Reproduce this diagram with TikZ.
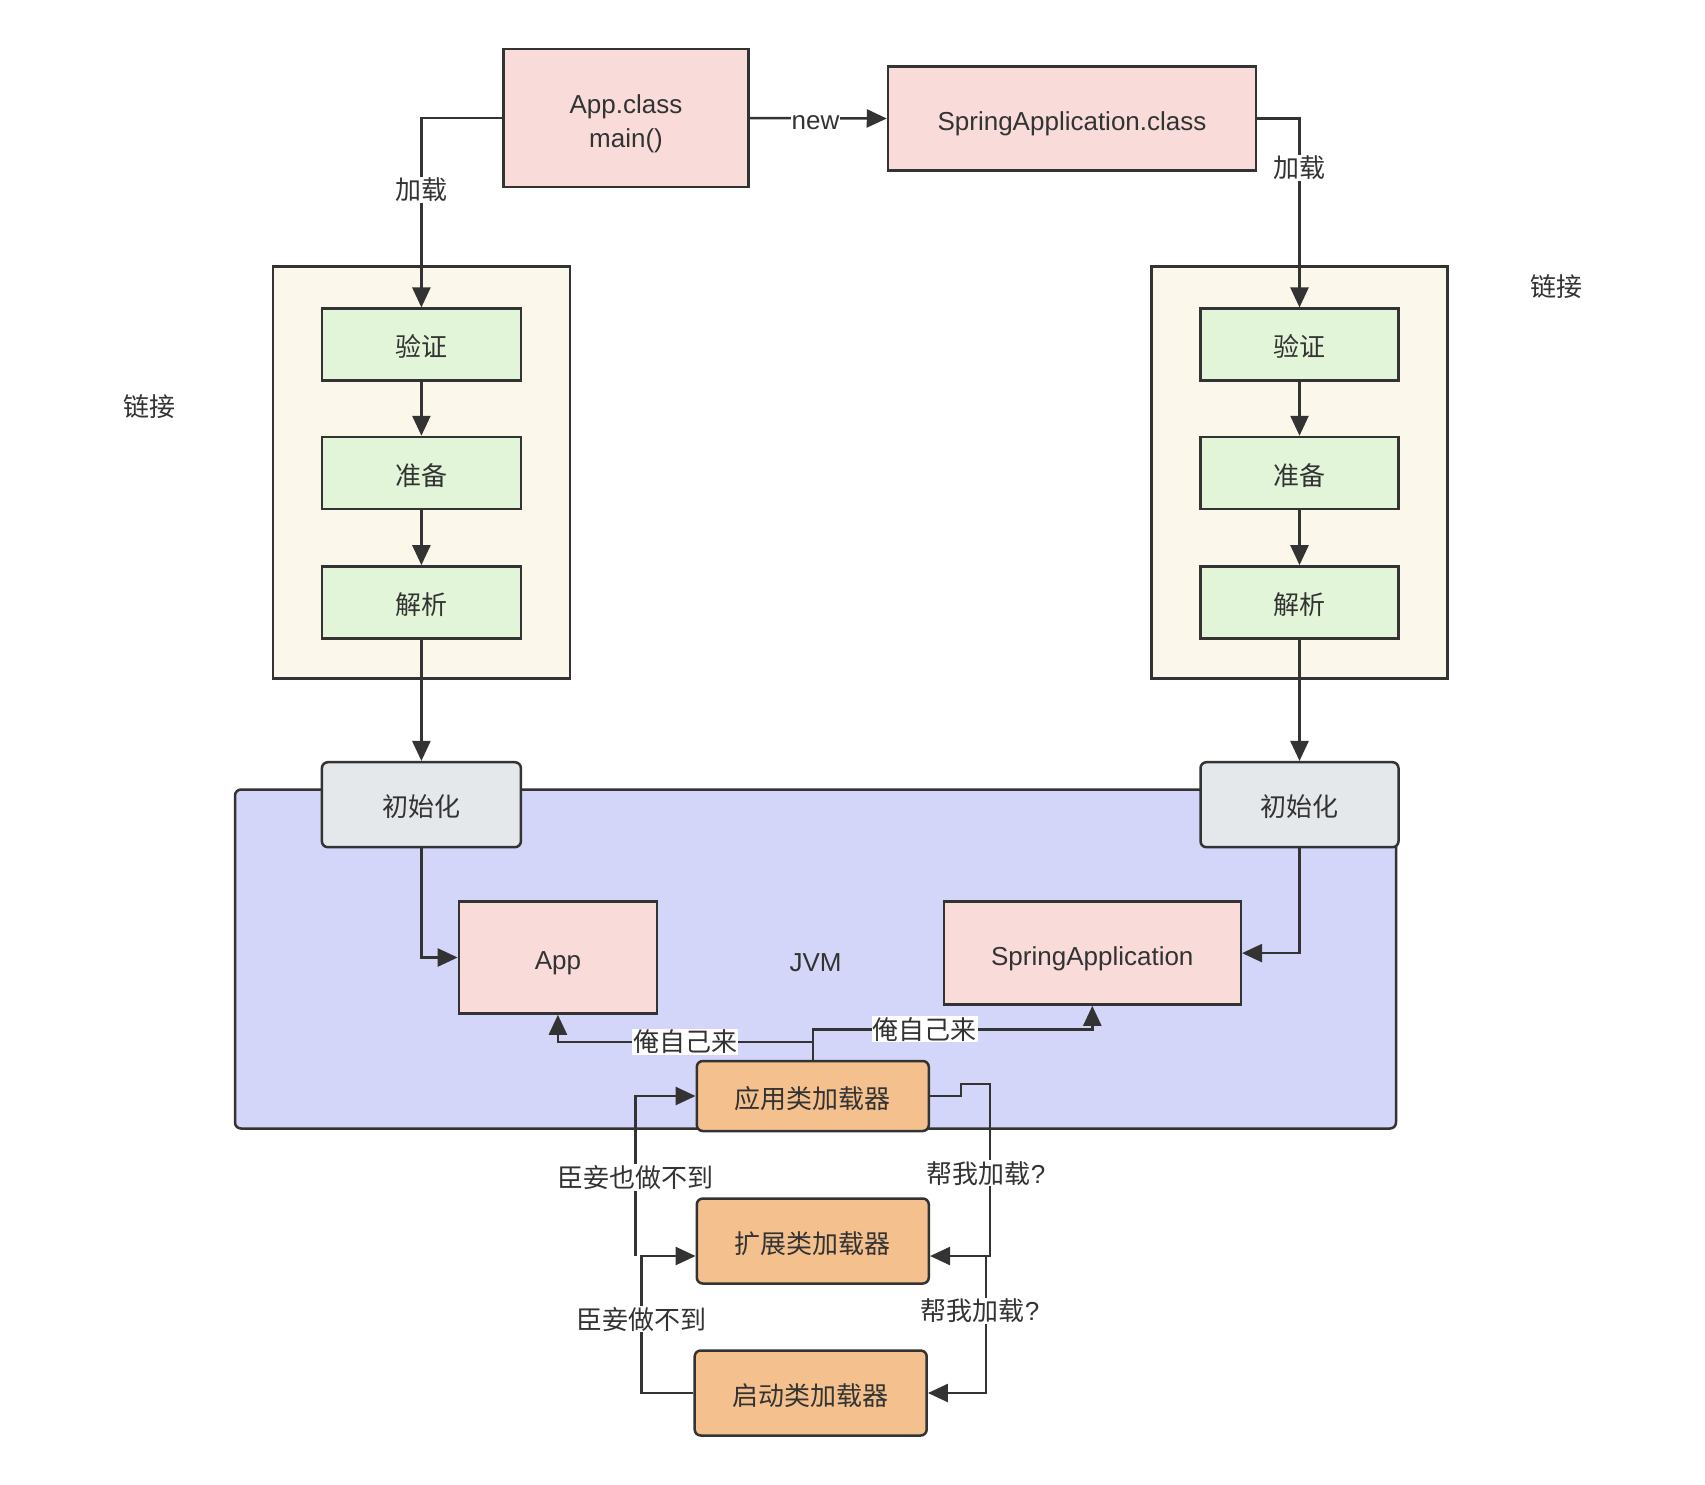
\documentclass[tikz,border=0pt]{standalone}
\usepackage{fontspec}
\setmainfont{Liberation Sans}
\newfontfamily\cjk{Noto Sans CJK SC}
\usepackage{tikz}
\usetikzlibrary{arrows.meta, calc}
\usetikzlibrary{positioning}
\definecolor{lineGray}{HTML}{333333}
\definecolor{boxPink}{HTML}{F9DCDA}
\definecolor{boxGreen}{HTML}{E3F5D9}
\definecolor{boxCream}{HTML}{FBF8EB}
\definecolor{boxGray}{HTML}{E5E8EB}
\definecolor{boxJvm}{HTML}{D3D6F8}
\definecolor{boxOrange}{HTML}{F4C18E}
\newcommand{\boxColor}{boxPink}
\newcommand{\cnFont}{\cjk\fontsize{26}{33}\selectfont}
\newcommand{\enFont}{\fontsize{26}{33}\selectfont}
\tikzset{
    box/.style = {draw=lineGray, line width=2.5pt, fill=#1, text=lineGray, inner sep=0pt,
        align=center, font=\enFont, text height=24pt, text depth=0pt},
    box/.default = \boxColor,
    boxP/.style = {box=boxPink},
    boxG/.style = {box=boxGreen, font=\cnFont, text height=24.5pt},
    boxC/.style = {box=boxCream},
    boxW/.style = {box=boxGray, rounded corners=6pt, font=\cnFont, text height=24.5pt},
    boxJ/.style = {box=boxJvm, rounded corners=6pt},
    boxO/.style = {box=boxOrange, rounded corners=6pt, font=\cnFont, text height=24.5pt},
    link/.style = {draw=lineGray, line width=2.5pt, -{Triangle[length=20pt,width=18pt]}},
    tag/.style = {fill=white, text=lineGray, inner sep=1pt, font=\cnFont}
}

\begin{document}
\begin{tikzpicture}[x=1pt, y=-1pt, font=\enFont]
                % pixel grid, y runs down; left column is App, right column is SpringApplication
                \useasboundingbox (0,0) rectangle (1705,1485);

                \node[boxC, minimum width=297, minimum height=412] (linkA) at (421.4,472.5) {};
                \node[boxC, minimum width=296, minimum height=412] (linkB) at (1299.5,472.5) {};
                \node[boxJ, minimum width=1161, minimum height=339] (jvm) at (815.5,959) {JVM};
                \node[text=lineGray, font=\cnFont] (linkTxtA) at (149,407) {链接};
                \node[text=lineGray, font=\cnFont] (linkTxtB) at (1556,287) {链接};

                \node[boxP, minimum width=245, minimum height=138, text height=58pt] (appClass) at (626,118) {App.class\\main()};
                \node[boxP, minimum width=368, minimum height=104] (springClass) at (1072,118.5) {SpringApplication.class};

                \node[boxG, minimum width=199, minimum height=72] (verifyA) at (421.4,344.7) {验证};
                \node[boxG, minimum width=199, minimum height=72] (prepareA) at (421.4,473) {准备};
                \node[boxG, minimum width=199, minimum height=72] (resolveA) at (421.4,602.4) {解析};
                \node[boxG, minimum width=198, minimum height=72] (verifyB) at (1299.5,344.7) {验证};
                \node[boxG, minimum width=198, minimum height=72] (prepareB) at (1299.5,473) {准备};
                \node[boxG, minimum width=198, minimum height=72] (resolveB) at (1299.5,602.4) {解析};

                \node[boxW, minimum width=199, minimum height=85] (initA) at (421.4,804.7) {初始化};
                \node[boxW, minimum width=198, minimum height=85] (initB) at (1299.5,804.7) {初始化};

                \node[boxP, minimum width=198, minimum height=112] (appObj) at (557.9,957.5) {App};
                \node[boxP, minimum width=297, minimum height=103] (springObj) at (1092.3,953.1) {SpringApplication};

                \node[boxO, minimum width=232, minimum height=70] (loaderApp) at (812.8,1096) {应用类加载器};
                \node[boxO, minimum width=232, minimum height=85] (loaderExt) at (812.8,1241) {扩展类加载器};
                \node[boxO, minimum width=232, minimum height=85] (loaderBoot) at (810.7,1393) {启动类加载器};

                \draw[link] (appClass.east) -- node[tag, pos=0.48, font=\enFont, text height=22pt, text depth=0pt] {new} (springClass.west);
                \draw[link] (appClass.west) -| node[tag, pos=0.69] {加载} (verifyA.north);
                \draw[link] (springClass.east) -| node[tag, pos=0.63] {加载} (verifyB.north);

                \draw[link] (verifyA) -- (prepareA);
                \draw[link] (prepareA) -- (resolveA);
                \draw[link] (resolveA) -- (initA);
                \draw[link] (verifyB) -- (prepareB);
                \draw[link] (prepareB) -- (resolveB);
                \draw[link] (resolveB) -- (initB);

                \draw[link] (initA.south) |- (appObj.west);
                \draw[link] (initB.south) |- (springObj.east);

                \draw[link] (loaderApp.north) -- ++(0,-18) -| node[tag, pos=0.25] {俺自己来} (appObj.south);
                \draw[link] (loaderApp.north) -- ++(0,-30.5) -| node[tag, pos=0.2] {俺自己来} (springObj.south);

                \draw[link] (loaderApp.east) -- ++(31,0) |- ++(29,-12)
                    |- node[tag, pos=0.26, xshift=-4] {帮我加载\normalfont?} ($(loaderExt.east)+(0,15)$);
                \draw[link] ($(loaderExt.east)+(56,15)$) |- node[tag, pos=0.2, xshift=-6] {帮我加载\normalfont?} (loaderBoot.east);
                \draw[link] (loaderBoot.west) -- ++(-52,0) |- node[tag, pos=0.27] {臣妾做不到} ($(loaderExt.west)+(0,15)$);
                \draw[link] ($(loaderExt.west)+(-60,15)$) |- node[tag, pos=0.245] {臣妾也做不到} (loaderApp.west);
        \end{tikzpicture}
\end{document}
